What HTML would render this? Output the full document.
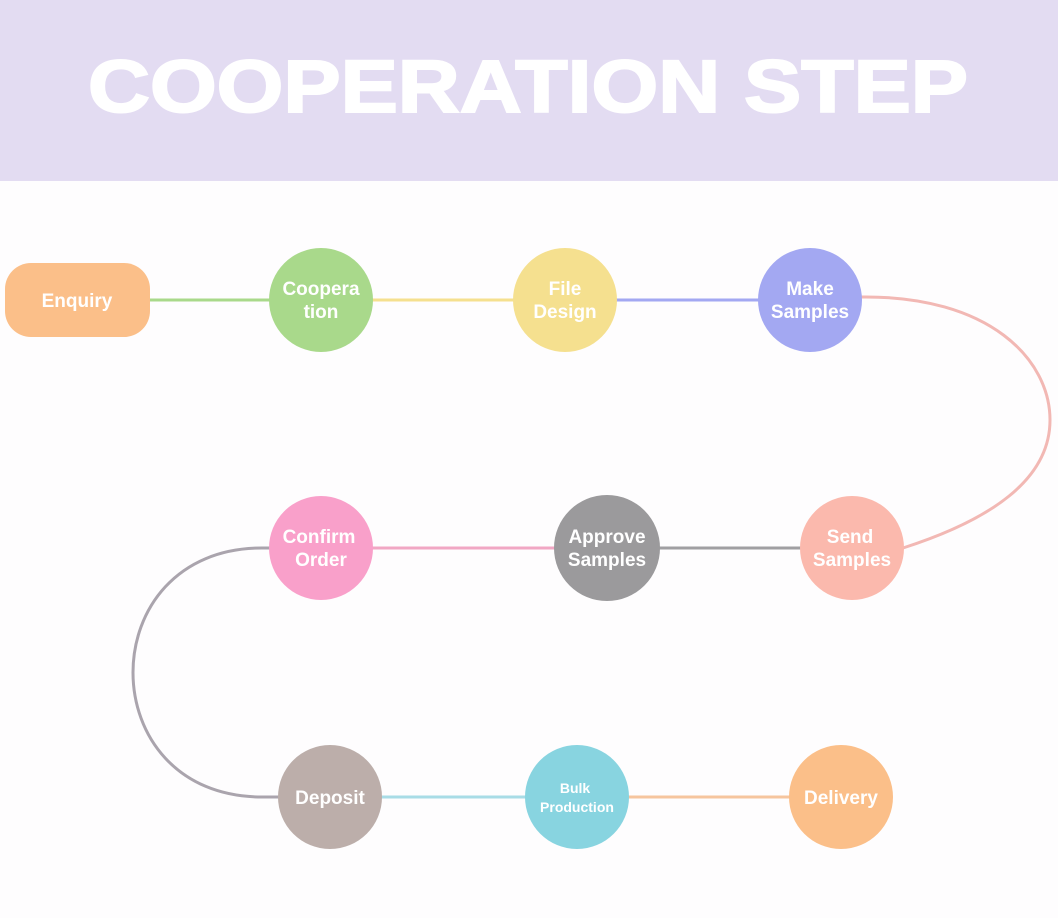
<!DOCTYPE html>
<html><head><meta charset="utf-8"><style>
html,body{margin:0;padding:0;background:#fefdfe;}
svg{display:block;}
text{font-family:"Liberation Sans","DejaVu Sans",sans-serif;font-weight:bold;fill:#fff;text-anchor:middle;}
</style></head><body>
<svg width="1058" height="918" viewBox="0 0 1058 918" xmlns="http://www.w3.org/2000/svg">
<rect x="0" y="0" width="1058" height="918" fill="#fefdfe"/>
<rect x="0" y="0" width="1058" height="181" fill="#e3dcf2"/>
<text x="528" y="112" font-size="74" stroke="#fff" stroke-width="2" style="font-family:'Liberation Sans',sans-serif;font-weight:900" textLength="880" lengthAdjust="spacingAndGlyphs">COOPERATION STEP</text>

<g fill="none" stroke-width="3">
<line x1="148" y1="300" x2="272" y2="300" stroke="#a9d98b"/>
<line x1="372" y1="300" x2="515" y2="300" stroke="#f5e08f"/>
<line x1="615" y1="300" x2="760" y2="300" stroke="#a3a8f2"/>
<path d="M860,297 C990,295 1050,360 1050,420 C1050,480 990,520 903,548" stroke="#f2b8b4"/>
<line x1="655" y1="548" x2="802" y2="548" stroke="#a09fa2"/>
<line x1="370" y1="548" x2="558" y2="548" stroke="#f1a7c4"/>
<path d="M272,548 H262 C90,548 90,797 262,797 H280" stroke="#aaa4ad"/>
<line x1="380" y1="797" x2="527" y2="797" stroke="#a8dce6"/>
<line x1="627" y1="797" x2="792" y2="797" stroke="#f6c59e"/>
</g>

<rect x="5" y="263" width="145" height="74" rx="26" fill="#fbbf89"/>
<text x="77" y="307" font-size="19">Enquiry</text>

<circle cx="321" cy="300" r="52" fill="#a9d98b"/>
<text x="321" y="295" font-size="19">Coopera</text><text x="321" y="318" font-size="19">tion</text>

<circle cx="565" cy="300" r="52" fill="#f5e08f"/>
<text x="565" y="295" font-size="19">File</text><text x="565" y="318" font-size="19">Design</text>

<circle cx="810" cy="300" r="52" fill="#a3a8f2"/>
<text x="810" y="295" font-size="19">Make</text><text x="810" y="318" font-size="19">Samples</text>

<circle cx="852" cy="548" r="52" fill="#fbb9ad"/>
<text x="850" y="543" font-size="19">Send</text><text x="852" y="566" font-size="19">Samples</text>

<circle cx="607" cy="548" r="53" fill="#9b9a9c"/>
<text x="607" y="543" font-size="19">Approve</text><text x="607" y="566" font-size="19">Samples</text>

<circle cx="321" cy="548" r="52" fill="#f9a0ca"/>
<text x="319" y="543" font-size="19">Confirm</text><text x="321" y="566" font-size="19">Order</text>

<circle cx="330" cy="797" r="52" fill="#bcaeaa"/>
<text x="330" y="804" font-size="19">Deposit</text>

<circle cx="577" cy="797" r="52" fill="#88d4e0"/>
<text x="575" y="793" font-size="14">Bulk</text><text x="577" y="812" font-size="14">Production</text>

<circle cx="841" cy="797" r="52" fill="#fbbf89"/>
<text x="841" y="804" font-size="19">Delivery</text>
</svg>
</body></html>
